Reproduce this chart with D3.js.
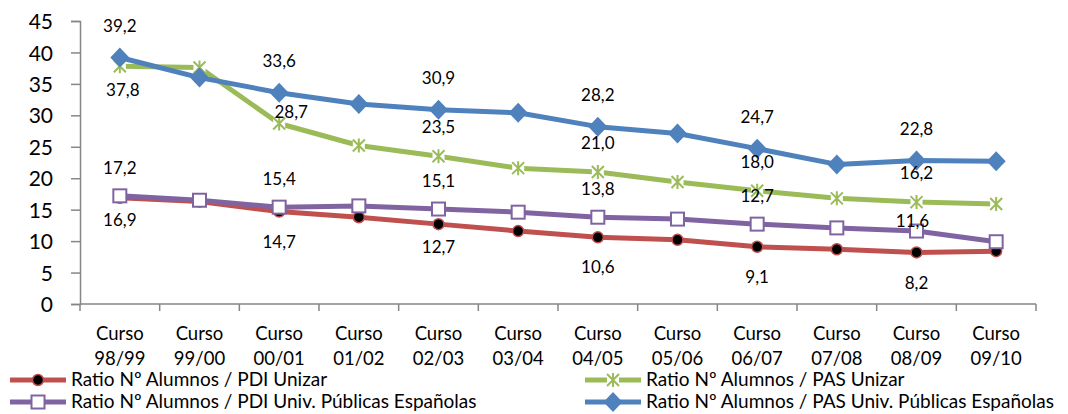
<!DOCTYPE html>
<html>
<head>
<meta charset="utf-8">
<script src="https://cdn.jsdelivr.net/npm/d3@7"></script>
<style>
    body { margin: 0; background: #fff; }
    text { font-family: Lato, "Open Sans", sans-serif; fill: #000; }
</style>
</head>
<body>
<div class="chart"></div>
<script>
let cursos = ["98/99", "99/00", "00/01", "01/02", "02/03", "03/04", "04/05", "05/06", "06/07", "07/08", "08/09", "09/10"]
let yTicks = [0, 5, 10, 15, 20, 25, 30, 35, 40, 45]

let pdiUnizar = [16.9, 16.3, 14.7, 13.8, 12.7, 11.6, 10.6, 10.2, 9.1, 8.7, 8.2, 8.4]
let pasUnizar = [37.8, 37.6, 28.7, 25.2, 23.5, 21.6, 21.0, 19.4, 18.0, 16.8, 16.2, 15.9]
let pdiEspana = [17.2, 16.5, 15.4, 15.6, 15.1, 14.6, 13.8, 13.5, 12.7, 12.1, 11.6, 9.9]
let pasEspana = [39.2, 36.0, 33.6, 31.8, 30.9, 30.4, 28.2, 27.1, 24.7, 22.2, 22.8, 22.7]

// every second course carries a data label
let labelled = [0, 2, 4, 6, 8, 10]

let series = [
    {name: "Ratio Nº Alumnos / PDI Unizar", values: pdiUnizar, color: "#C0504D", marker: "circle", dy: 30},
    {name: "Ratio Nº Alumnos / PAS Unizar", values: pasUnizar, color: "#9BBB59", marker: "star", dy: -29},
    {name: "Ratio Nº Alumnos / PDI Univ. Públicas Españolas", values: pdiEspana, color: "#8064A2", marker: "square", dy: -28},
    {name: "Ratio Nº Alumnos / PAS Univ. Públicas Españolas", values: pasEspana, color: "#4F81BD", marker: "diamond", dy: -32}
]

// labels that were moved by hand in the original
let labelNudge = {
    "0-0": [0, 22], "0-4": [0, 23],
    "1-0": [3, 24], "1-2": [12, -12],
    "2-10": [-4, -10]
}

let outerWidth = 1068
let outerHeight = 414
let margin = {top: 21, bottom: 110, left: 80, right: 32}
let width = outerWidth - margin.left - margin.right
let height = outerHeight - margin.top - margin.bottom

let root = d3.select(".chart")
    .append("svg")
    .attr("width", outerWidth)
    .attr("height", outerHeight)

let svg = root.append("g")
    .attr("transform", `translate(${margin.left}, ${margin.top})`)

// Scales
let xScale = d3.scaleBand()
    .domain(cursos)
    .range([0, width])

let yScale = d3.scaleLinear()
    .domain([0, 45])
    .range([height, 0])

let cx = (d, i) => xScale(cursos[i]) + xScale.bandwidth() / 2

// Axes
let axisColor = "#868686"

let yAxis = svg.append("g")
    .attr("class", "axis y-axis")
    .call(d3.axisLeft(yScale).tickValues(yTicks).tickSize(9).tickPadding(18))
yAxis.select(".domain").attr("stroke", axisColor).attr("stroke-width", 1.5)
yAxis.selectAll(".tick line").attr("stroke", axisColor).attr("stroke-width", 1.5)
yAxis.selectAll(".tick text")
    .attr("font-family", "Lato, sans-serif")
    .attr("font-size", 21)
    .attr("fill", "#000")
    .attr("dy", "0.36em")

let xAxis = svg.append("g")
    .attr("class", "axis x-axis")
    .attr("transform", `translate(0, ${height})`)

xAxis.append("line")
    .attr("x1", 0).attr("x2", width)
    .attr("stroke", axisColor).attr("stroke-width", 1.5)

xAxis.selectAll(".xtick")
    .data(cursos.concat(["end"]))
    .enter()
    .append("line")
    .attr("x1", d => d === "end" ? width : xScale(d))
    .attr("x2", d => d === "end" ? width : xScale(d))
    .attr("y1", 0).attr("y2", 7)
    .attr("stroke", axisColor).attr("stroke-width", 1.5)

let xLabels = xAxis.selectAll(".xlabel")
    .data(cursos)
    .enter()
    .append("text")
    .attr("text-anchor", "middle")
    .attr("font-size", 18.5)
xLabels.append("tspan")
    .attr("x", d => xScale(d) + xScale.bandwidth() / 2)
    .attr("y", 36)
    .text("Curso")
xLabels.append("tspan")
    .attr("x", d => xScale(d) + xScale.bandwidth() / 2)
    .attr("y", 61)
    .text(d => d)

// Markers
function drawMarker(g, type, color) {
    if (type === "circle") {
        g.append("circle").attr("r", 5.5).attr("fill", "#000")
            .attr("stroke", color).attr("stroke-width", 1.5)
    } else if (type === "square") {
        g.append("rect").attr("x", -6.5).attr("y", -6.5).attr("width", 13).attr("height", 13)
            .attr("fill", "#fff").attr("stroke", color).attr("stroke-width", 2)
    } else if (type === "diamond") {
        g.append("path").attr("d", "M0,-10L9.5,0L0,10L-9.5,0Z").attr("fill", color)
    } else if (type === "star") {
        g.append("rect").attr("x", -6).attr("y", -6).attr("width", 12).attr("height", 12).attr("fill", "#fff")
        g.append("path").attr("d", "M-6,-6L6,6M-6,6L6,-6M0,-7L0,7")
            .attr("stroke", color).attr("stroke-width", 2).attr("fill", "none")
    }
}

let line = d3.line()
    .x(cx)
    .y(d => yScale(d))

series.forEach(s => {
    let g = svg.append("g").attr("class", "series")
    g.append("path")
        .datum(s.values)
        .attr("d", line)
        .attr("fill", "none")
        .attr("stroke", s.color)
        .attr("stroke-width", 5)
        .attr("stroke-linejoin", "round")

    g.selectAll(".marker")
        .data(s.values)
        .enter()
        .append("g")
        .attr("class", "marker")
        .attr("transform", (d, i) => `translate(${cx(d, i)}, ${yScale(d)})`)
        .each(function() { drawMarker(d3.select(this), s.marker, s.color) })
})

// Data labels
series.forEach((s, si) => {
    svg.append("g")
        .attr("class", "labels")
        .selectAll("text")
        .data(labelled)
        .enter()
        .append("text")
        .attr("text-anchor", "middle")
        .attr("font-size", 17)
        .attr("dy", "0.36em")
        .attr("x", i => cx(null, i) + (labelNudge[si + "-" + i] || [0, 0])[0])
        .attr("y", i => yScale(s.values[i]) + (labelNudge[si + "-" + i] || [0, s.dy])[1])
        .text(i => d3.format(".1f")(s.values[i]).replace(".", ","))
})

// Legend
let legendPos = [[10, 380], [585, 380], [10, 402], [585, 402]]

let legend = root.append("g").attr("class", "legend")
series.forEach((s, i) => {
    let [lx, ly] = legendPos[i]
    let item = legend.append("g").attr("transform", `translate(${lx}, ${ly})`)
    item.append("line")
        .attr("x1", 0).attr("x2", 56)
        .attr("stroke", s.color).attr("stroke-width", 5)
    drawMarker(item.append("g").attr("transform", "translate(28, 0)"), s.marker, s.color)
    item.append("text")
        .attr("x", 61)
        .attr("dy", "0.34em")
        .attr("font-size", 19)
        .text(s.name)
})
</script>
</body>
</html>
